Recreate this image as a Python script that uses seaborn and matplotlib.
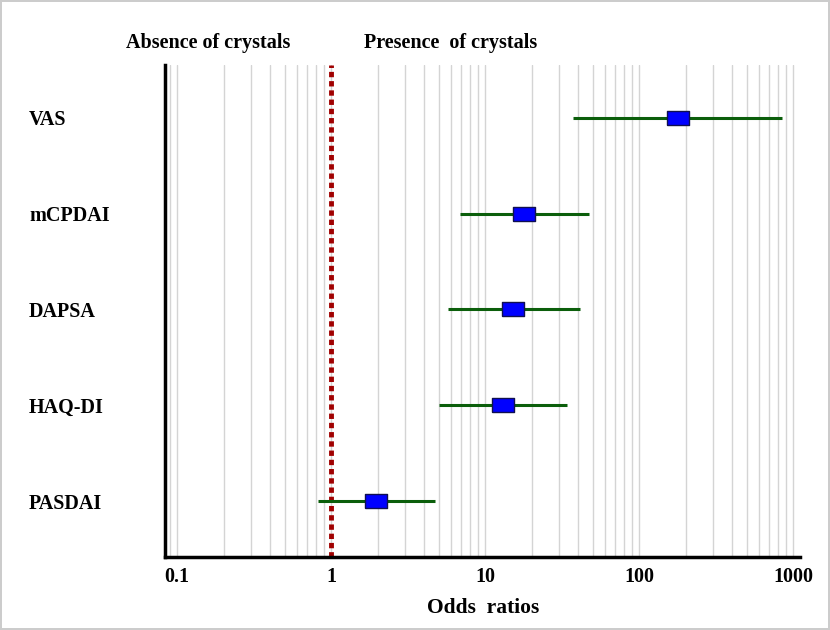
import matplotlib
matplotlib.use("Agg")
import matplotlib.pyplot as plt
import seaborn as sns
import pandas as pd
from matplotlib.ticker import LogLocator, FixedLocator, NullFormatter

# 데이터
labels = ["VAS", "mCPDAI", "DAPSA", "HAQ-DI", "PASDAI"]
odds = [180, 18, 15.2, 13.1, 1.96]
ci_low = [37, 6.9, 5.7, 5.0, 0.82]
ci_high = [850, 47, 41, 34, 4.7]
xticks = [0.1, 1, 10, 100, 1000]
xticklabels = ["0.1", "1", "10", "100", "1000"]

df = pd.DataFrame({"label": labels, "odds": odds, "low": ci_low, "high": ci_high})
df["pos"] = range(len(df))

sns.set_theme(style="white")
plt.rcParams["font.family"] = ["Liberation Serif", "DejaVu Serif"]
plt.rcParams["font.weight"] = "bold"
plt.rcParams["text.color"] = "black"
plt.rcParams["axes.labelcolor"] = "black"
plt.rcParams["xtick.labelcolor"] = "black"
plt.rcParams["ytick.labelcolor"] = "black"

fig = plt.figure(figsize=(8.3, 6.3), dpi=100)
fig.patch.set_edgecolor("#cccccc")
fig.patch.set_linewidth(1.5)
ax = fig.add_axes([0.199, 0.116, 0.765, 0.781])

ax.set_xscale("log")
ax.set_xlim(0.0836, 1110)
ax.set_ylim(4.58, -0.55)

# 격자
ax.xaxis.set_major_locator(FixedLocator(xticks))
ax.xaxis.set_minor_locator(LogLocator(base=10, subs=range(2, 10)))
ax.xaxis.set_minor_formatter(NullFormatter())
ax.grid(True, which="both", axis="x", color="#d4d4d4", linewidth=1)
ax.set_axisbelow(True)

# 기준선
ax.axvline(1, color="#a00000", linewidth=3.5, linestyle=(0, (1.1, 0.8)), zorder=2)

# 신뢰구간 + 점
ax.hlines(df["pos"], df["low"], df["high"], color="#0b5e0b", linewidth=2.2, zorder=3)
rect = [(-1, -0.7), (1, -0.7), (1, 0.7), (-1, 0.7), (-1, -0.7)]
sns.scatterplot(data=df, x="odds", y="pos", marker=rect, s=230, color="#0000ff",
                edgecolor="#101050", linewidth=1, zorder=4, ax=ax, legend=False)

ax.set_xticklabels(xticklabels, fontsize=14.5, fontweight="bold", color="black")
ax.set_yticks(df["pos"])
ax.set_yticklabels(labels, fontsize=14.5, fontweight="bold", ha="left", color="black")
ax.tick_params(axis="y", length=0, pad=98)
ax.tick_params(axis="x", which="major", direction="in", length=6, width=1, color="black", pad=7)
ax.tick_params(axis="x", which="minor", direction="in", length=4, width=1, color="black")

for s in ["top", "right"]:
    ax.spines[s].set_visible(False)
for s in ["left", "bottom"]:
    ax.spines[s].set_color("black")
    ax.spines[s].set_linewidth(2.5)

ax.set_xlabel("Odds  ratios", fontsize=15.5, fontweight="bold", labelpad=8, color="black")
ax.set_ylabel("")

fig.text(208 / 830, 1 - 43 / 630, "Absence of crystals", ha="center", va="center",
         fontsize=14.5, fontweight="bold", color="black")
fig.text(451 / 830, 1 - 43 / 630, "Presence  of crystals", ha="center", va="center",
         fontsize=14.5, fontweight="bold", color="black")

fig.savefig("out.png", dpi=100)
